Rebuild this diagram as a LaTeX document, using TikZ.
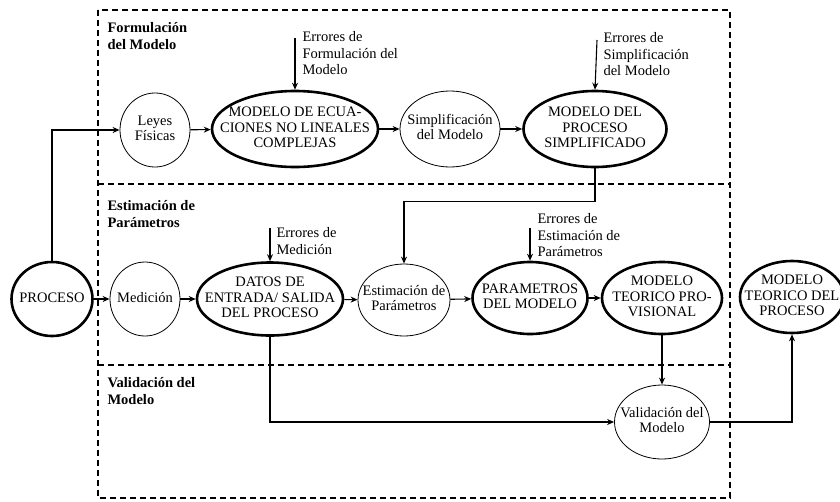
\documentclass[tikz,border=0pt]{standalone}
\usepackage{fontspec}
\setmainfont{Liberation Serif}
\usetikzlibrary{shapes.geometric,arrows.meta}

% text of an oval, kept out of the size of the oval
\newcommand{\ovaltext}[1]{\makebox[0pt]{\begin{tabular}{@{}c@{}}#1\end{tabular}}}

\tikzset{
  stage/.style={shape=ellipse,draw,line width=0.8pt,inner sep=0pt,minimum height=74pt,font=\fontsize{14.5}{15.5}\selectfont},
  result/.style={stage,line width=2.6pt},
  note/.style={anchor=north west,inner sep=0pt,align=left,font=\fontsize{14.5}{16.5}\selectfont},
  section/.style={note,font=\fontsize{14.5}{16.5}\selectfont\bfseries},
  zone/.style={line width=1.6pt,dash pattern=on 6pt off 4pt},
}

\begin{document}
\begin{tikzpicture}[x=1pt,y=-1pt,>={Stealth[length=7pt,width=6pt]},line width=1.1pt]
        \useasboundingbox (0,0) rectangle (840,501);
        % zones
        \draw[zone] (98,10) rectangle (730,498);
        \draw[zone] (98,184)--(730,184);
        \draw[zone] (98,365)--(730,365);
        \node[section] (formulacion) at (107,22) {Formulación\\del Modelo};
        \node[section] (estimacion) at (107,200) {Estimación de\\Parámetros};
        \node[section] (validacion) at (107,377) {Validación del\\Modelo};
        % first row
        \node[stage,minimum width=70pt] (leyes) at (155,130) {\ovaltext{Leyes\\Físicas}};
        \node[result,minimum width=166pt,minimum height=76pt] (ecuaciones) at (295,129) {\ovaltext{MODELO DE ECUA-\\CIONES NO LINEALES\\COMPLEJAS}};
        \node[stage,minimum width=100pt,minimum height=76pt] (simplif) at (450,129) {\ovaltext{Simplificación\\del Modelo}};
        \node[result,minimum width=143pt,minimum height=76pt] (simplificado) at (595,129) {\ovaltext{MODELO DEL\\PROCESO\\SIMPLIFICADO}};
        % second row
        \node[result,minimum width=81pt] (proceso) at (52,299) {\ovaltext{PROCESO}};
        \node[stage,minimum width=70pt] (medicion) at (145,299) {\ovaltext{Medición}};
        \node[result,minimum width=146pt,minimum height=73pt] (datos) at (270,299) {\ovaltext{DATOS DE\\ENTRADA/ SALIDA\\DEL PROCESO}};
        \node[stage,minimum width=92pt,minimum height=72pt] (estim) at (404,300) {\ovaltext{Estimación de\\Parámetros}};
        \node[result,minimum width=115pt,minimum height=72pt] (parametros) at (530,298) {\ovaltext{PARAMETROS\\DEL MODELO}};
        \node[result,minimum width=120pt,minimum height=72pt] (provisional) at (662,298) {\ovaltext{MODELO\\TEORICO PRO-\\VISIONAL}};
        \node[result,minimum width=104pt,minimum height=72pt] (teorico) at (792,297) {\ovaltext{MODELO\\TEORICO DEL\\PROCESO}};
        % third row
        \node[stage,minimum width=95pt] (valid) at (662,422) {\ovaltext{Validación del\\Modelo}};
        % errors
        \node[note] (eformul) at (302,31) {Errores de\\Formulación del\\Modelo};
        \node[note] (esimpl) at (603,32) {Errores de\\Simplificación\\del Modelo};
        \node[note] (emedic) at (276,227) {Errores de\\Medición};
        \node[note] (eestim) at (537,213) {Errores de\\Estimación de\\Parámetros};
        \coordinate (eformultop) at (295,38);
        \coordinate (esimpltop) at (597,40);
        \coordinate (emedictop) at (270,228);
        \coordinate (eestimtop) at (530,228);
        \draw[->] (eformultop)--(ecuaciones.north);
        \draw[->] (esimpltop)--(simplificado.north);
        \draw[->] (emedictop)--(datos.north);
        \draw[->] (eestimtop)--(parametros.north);
        % flow
        \draw[->] (proceso.north) |- (leyes.west);
        \draw[->] (leyes)--(ecuaciones);
        \draw[->] (ecuaciones)--(simplif);
        \draw[->] (simplif)--(simplificado);
        \draw[->] (simplificado.south)--++(0,33) -| (estim.north);
        \draw[->] (proceso)--(medicion);
        \draw[->] (medicion)--(datos);
        \draw[->] (datos)--(estim);
        \draw[->] (estim)--(parametros);
        \draw[->] (parametros)--(provisional);
        \draw[->] (provisional.south)--(valid.north);
        \draw[->] (datos.south) |- (valid.west);
        \draw[->] (valid.east) -| (teorico.south);
      \end{tikzpicture}
\end{document}
